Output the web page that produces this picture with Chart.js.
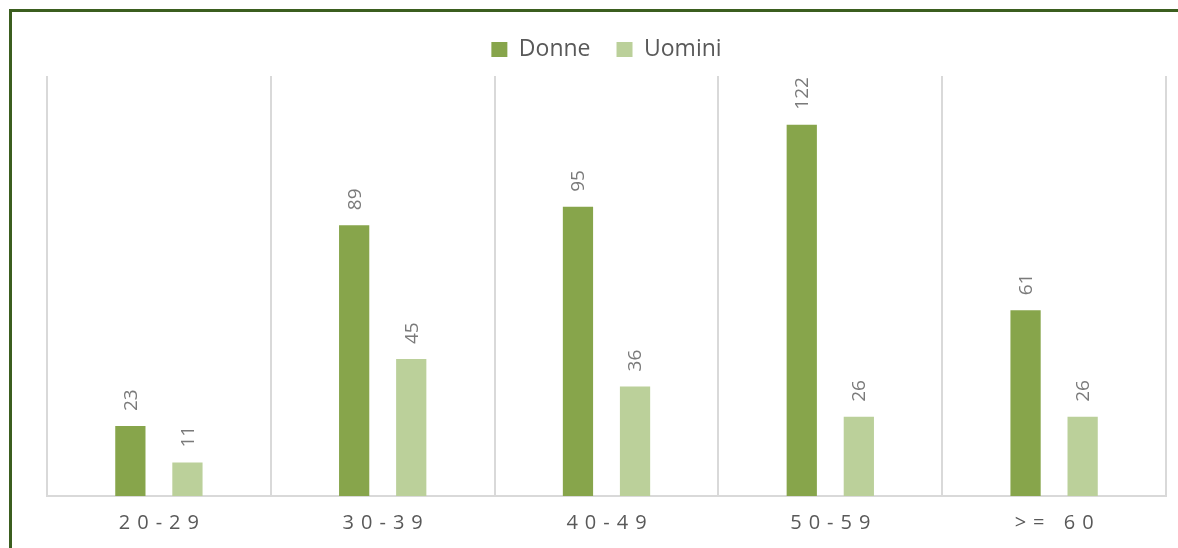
<!DOCTYPE html>
<html>
<head>
<meta charset="utf-8">
<script src="https://cdn.jsdelivr.net/npm/chart.js@4"></script>
<style>
  html, body { margin:0; padding:0; background:#ffffff; width:1178px; height:548px; overflow:hidden; }
  #frame { position:absolute; left:9px; top:9px; width:1200px; height:600px; border-top:3px solid #3b5e1f; border-left:3px solid #3b5e1f; box-sizing:border-box; }
  #c { position:absolute; left:0; top:0; }
</style>
</head>
<body>
<div id="frame"></div>
<canvas id="c" width="1178" height="548"></canvas>
<script>
const categories = ['20-29', '30-39', '40-49', '50-59', '>= 60'];
const seriesNames = ['Donne', 'Uomini'];
const donne = [23, 89, 95, 122, 61];
const uomini = [11, 45, 36, 26, 26];
const colors = ['#87a54b', '#bbd09a'];

const FONT = "'Open Sans', 'DejaVu Sans', sans-serif";

const valueLabels = {
  id: 'valueLabels',
  afterDatasetsDraw(chart) {
    const ctx = chart.ctx;
    ctx.save();
    ctx.fillStyle = '#7a7a7a';
    ctx.font = "19px " + FONT;
    ctx.textAlign = 'left';
    ctx.textBaseline = 'middle';
    chart.data.datasets.forEach((ds, di) => {
      const meta = chart.getDatasetMeta(di);
      meta.data.forEach((bar, i) => {
        ctx.save();
        ctx.translate(bar.x, bar.y - 15);
        ctx.rotate(-Math.PI / 2);
        ctx.fillText(String(ds.data[i]), 0, 1);
        ctx.restore();
      });
    });
    ctx.restore();
  }
};

const spacedTicks = {
  id: 'spacedTicks',
  afterDraw(chart) {
    const ctx = chart.ctx;
    const x = chart.scales.x;
    ctx.save();
    ctx.fillStyle = '#595959';
    ctx.font = "20px " + FONT;
    ctx.letterSpacing = '7px';
    ctx.textAlign = 'center';
    ctx.textBaseline = 'middle';
    categories.forEach((lab, i) => {
      ctx.fillText(lab, x.getPixelForValue(i) + 3.5, chart.chartArea.bottom + 27);
    });
    ctx.restore();
  }
};

const legendHeight = {
  id: 'legendHeight',
  beforeLayout(chart) {
    const lg = chart.legend;
    if (lg && !lg._patched) {
      lg._patched = true;
      const origFit = lg.fit;
      lg.fit = function () { origFit.call(this); this.height += 5; };
    }
  }
};

new Chart(document.getElementById('c'), {
  type: 'bar',
  data: {
    labels: categories,
    datasets: [
      { label: seriesNames[0], data: donne, backgroundColor: colors[0], categoryPercentage: 0.51, barPercentage: 0.53 },
      { label: seriesNames[1], data: uomini, backgroundColor: colors[1], categoryPercentage: 0.51, barPercentage: 0.53 }
    ]
  },
  options: {
    responsive: false,
    animation: false,
    devicePixelRatio: 1,
    layout: { padding: { left: 47, right: 12, top: 12, bottom: 52 } },
    plugins: {
      legend: {
        display: true,
        position: 'top',
        labels: {
          boxWidth: 16, boxHeight: 15, padding: 26,
          color: '#595959',
          font: { size: 23, family: FONT }
        }
      },
      tooltip: { enabled: false }
    },
    scales: {
      x: {
        offset: true,
        grid: { display: true, offset: true, color: '#d9d9d9', lineWidth: 2, drawTicks: false },
        border: { display: true, color: '#d9d9d9', width: 2 },
        ticks: { display: false }
      },
      y: {
        display: false,
        min: 0,
        max: 138
      }
    }
  },
  plugins: [legendHeight, valueLabels, spacedTicks]
});
</script>
</body>
</html>
